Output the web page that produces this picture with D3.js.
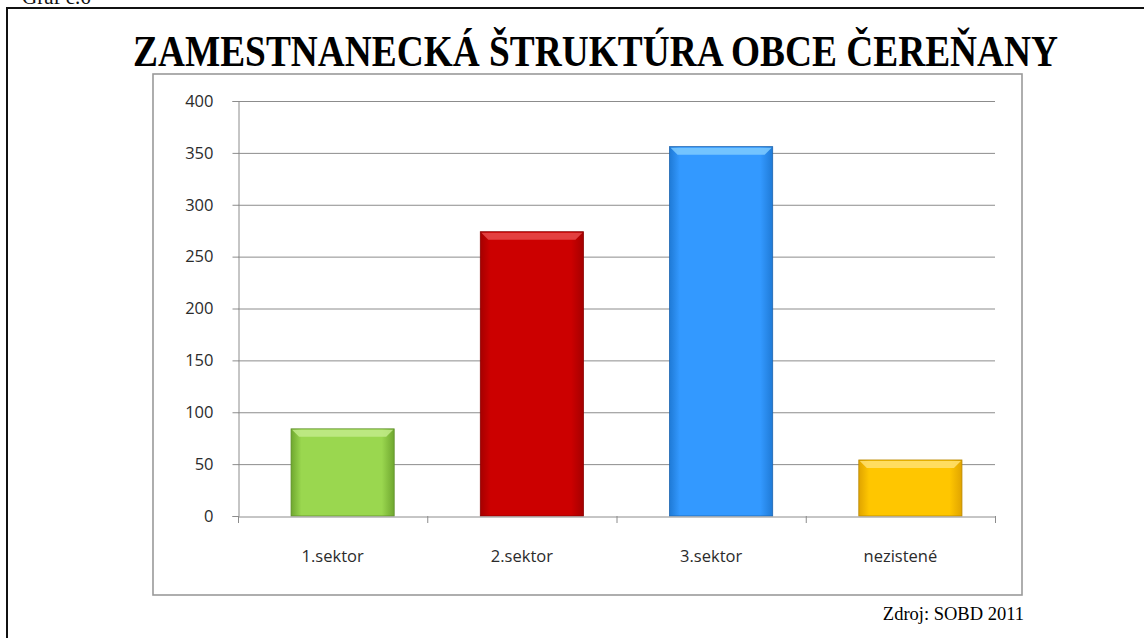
<!DOCTYPE html>
<html>
<head>
<meta charset="utf-8">
<script src="https://cdn.jsdelivr.net/npm/d3@7"></script>
<style>
  html, body { margin: 0; padding: 0; background: #fff; }
  svg { display: block; }
</style>
</head>
<body>
<svg id="chart" width="1144" height="638"></svg>
<script>
// Employment structure of the municipality, 2011
const categories = ["1.sektor", "2.sektor", "3.sektor", "nezistené"];
const values = [84, 274, 356, 54];
const barColors = [
  { mid: "#9ad74f", edge: "#6fa72f", top: "#c2eb8a", line: "#5f8f2a" },
  { mid: "#cc0000", edge: "#a50000", top: "#e84a4a", line: "#8a0000" },
  { mid: "#3399ff", edge: "#1f7ad6", top: "#7fcbff", line: "#1c64b0" },
  { mid: "#ffc600", edge: "#e0a400", top: "#ffe070", line: "#b88700" }
];
const yTicks = [0, 50, 100, 150, 200, 250, 300, 350, 400];

const svg = d3.select("#chart");

// Page frame and caption
svg.append("path")
  .attr("d", "M7,638 L7,8 L1144,8")
  .attr("fill", "none").attr("stroke", "#111").attr("stroke-width", 2);
svg.append("text")
  .attr("x", 22).attr("y", 4)
  .attr("font-family", "Liberation Serif, Times New Roman, serif")
  .attr("font-size", 21).attr("fill", "#111")
  .text("Graf č.6");

// Title
svg.append("text")
  .attr("x", 133).attr("y", 66)
  .attr("font-family", "Liberation Serif, Times New Roman, serif")
  .attr("font-weight", "bold").attr("font-size", 45)
  .attr("textLength", 925).attr("lengthAdjust", "spacingAndGlyphs")
  .attr("fill", "#000")
  .text("ZAMESTNANECKÁ ŠTRUKTÚRA OBCE ČEREŇANY");

// Chart frame
svg.append("rect")
  .attr("x", 153).attr("y", 74).attr("width", 869).attr("height", 521)
  .attr("fill", "#fff").attr("stroke", "#9a9a9a").attr("stroke-width", 1.6);

// Source note
svg.append("text")
  .attr("x", 1024).attr("y", 620).attr("text-anchor", "end")
  .attr("font-family", "Liberation Serif, Times New Roman, serif")
  .attr("font-size", 18.5).attr("fill", "#000")
  .text("Zdroj: SOBD 2011");

const plotLeft = 238, plotRight = 995, plotTop = 101, plotBottom = 516;
const x = d3.scaleBand().domain(categories).range([plotLeft, plotRight]).paddingInner(0).paddingOuter(0);
const y = d3.scaleLinear().domain([0, 400]).range([plotBottom, plotTop]);

const labelFont = "Open Sans, DejaVu Sans, sans-serif";

// Gridlines
svg.append("g")
  .selectAll("line")
  .data(yTicks.filter(t => t > 0))
  .join("line")
  .attr("x1", plotLeft).attr("x2", plotRight)
  .attr("y1", d => y(d) + 0.5).attr("y2", d => y(d) + 0.5)
  .attr("stroke", "#8c8c8c").attr("stroke-width", 1);

// Y axis
const yAxis = svg.append("g")
  .attr("transform", `translate(${plotLeft + 0.5},0)`)
  .call(d3.axisLeft(y).tickValues(yTicks).tickSize(6).tickPadding(19).tickFormat(d3.format("d")));
yAxis.select(".domain").attr("stroke", "#8c8c8c");
yAxis.selectAll(".tick line").attr("stroke", "#8c8c8c");
yAxis.selectAll(".tick text")
  .attr("font-family", labelFont).attr("font-size", 16.5).attr("fill", "#2b2b2b");

// Bar gradients
const defs = svg.append("defs");
barColors.forEach((c, i) => {
  const g = defs.append("linearGradient").attr("id", "bar" + i)
    .attr("x1", "0").attr("x2", "1").attr("y1", "0").attr("y2", "0");
  g.append("stop").attr("offset", "0").attr("stop-color", c.edge);
  g.append("stop").attr("offset", "0.1").attr("stop-color", c.mid);
  g.append("stop").attr("offset", "0.88").attr("stop-color", c.mid);
  g.append("stop").attr("offset", "1").attr("stop-color", c.edge);
});

// Bars, drawn slightly right of the band centre with a bevelled top
const barW = x.bandwidth() * 0.545;
const shift = 10;
const bars = svg.append("g").selectAll("g")
  .data(categories.map((c, i) => ({ c, v: values[i], i })))
  .join("g");

bars.append("rect")
  .attr("x", d => x(d.c) + (x.bandwidth() - barW) / 2 + shift)
  .attr("y", d => y(d.v))
  .attr("width", barW)
  .attr("height", d => y(0) - y(d.v))
  .attr("fill", d => `url(#bar${d.i})`)
  .attr("stroke", d => barColors[d.i].line)
  .attr("stroke-width", 0.8);

bars.append("path")
  .attr("d", d => {
    const x0 = x(d.c) + (x.bandwidth() - barW) / 2 + shift;
    const y0 = y(d.v);
    const b = 8;
    return `M${x0 + 1},${y0 + 1} L${x0 + barW - 1},${y0 + 1} L${x0 + barW - b},${y0 + b} L${x0 + b},${y0 + b} Z`;
  })
  .attr("fill", d => barColors[d.i].top)
  .attr("opacity", 0.85);

// X axis
const xAxis = svg.append("g")
  .attr("transform", `translate(0,${plotBottom + 0.5})`)
  .call(d3.axisBottom(x).tickSize(0).tickPadding(34));
xAxis.select(".domain").attr("stroke", "#8c8c8c");
xAxis.selectAll(".tick text")
  .attr("font-family", labelFont).attr("font-size", 16.5).attr("fill", "#2b2b2b");

// Category separators on the x axis
svg.append("g")
  .selectAll("line")
  .data(categories.map(c => x(c)).concat([plotRight]))
  .join("line")
  .attr("x1", d => d + 0.5).attr("x2", d => d + 0.5)
  .attr("y1", plotBottom).attr("y2", plotBottom + 7)
  .attr("stroke", "#8c8c8c");
</script>
</body>
</html>
